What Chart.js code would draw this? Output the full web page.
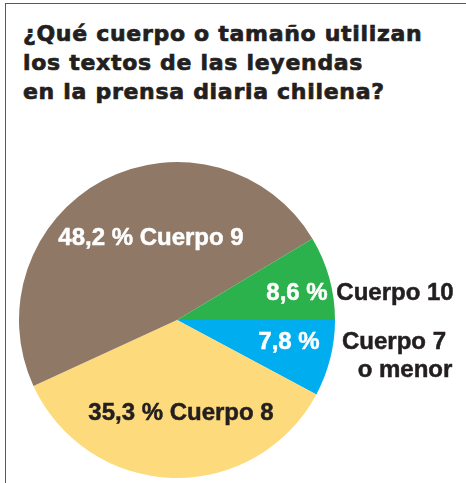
<!DOCTYPE html>
<html>
<head>
<meta charset="utf-8">
<script src="https://cdn.jsdelivr.net/npm/chart.js@4/dist/chart.umd.min.js"></script>
<style>
  html, body { margin: 0; padding: 0; background: #fff; }
  #wrap { position: relative; width: 466px; height: 483px; overflow: hidden; }
  #frame { position: absolute; left: 5px; top: 3px; right: -2px; bottom: -2px;
    border-top: 1.5px solid #5a5a5a; border-left: 1.5px solid #5a5a5a; }
  #title { position: absolute; left: 23px; top: 19px; margin: 0;
    font: bold 22px 'DejaVu Sans', sans-serif; line-height: 29px; letter-spacing: 0.7px; color: #231f20;
    -webkit-text-stroke: 0.7px #231f20; }
  canvas { position: absolute; left: 0; top: 0; }
</style>
</head>
<body>
<div id="wrap">
  <div id="frame"></div>
  <p id="title">¿Qué cuerpo o tamaño utilizan<br>los textos de las leyendas<br>en la prensa diaria chilena?</p>
  <canvas id="pie" width="466" height="483"></canvas>
</div>
<script>
// Slices clockwise from 3 o'clock
const categories = ['Cuerpo 7 o menor', 'Cuerpo 8', 'Cuerpo 9', 'Cuerpo 10'];
const shares = [7.8, 35.3, 48.2, 8.6];
const colors = ['#00aeef', '#fdda7b', '#8f7866', '#2bb24c'];
const pctLabels = shares.map((v) => v.toFixed(1).replace('.', ',') + ' %');

// label placement relative to pie centre (px), and colours
const labelSpots = [
  { parts: [
      { text: pctLabels[0], dx: 112, dy: 22, color: '#fff', align: 'center' },
      { text: 'Cuerpo 7', dx: 217, dy: 22, color: '#231f20', align: 'center' },
      { text: 'o menor', dx: 228, dy: 50, color: '#231f20', align: 'center' } ] },
  { parts: [ { text: pctLabels[1] + ' ' + 'Cuerpo 8', dx: 4, dy: 93, color: '#231f20', align: 'center' } ] },
  { parts: [ { text: pctLabels[2] + ' ' + 'Cuerpo 9', dx: -26, dy: -82, color: '#fff', align: 'center' } ] },
  { parts: [
      { text: pctLabels[3], dx: 120, dy: -27, color: '#fff', align: 'center' },
      { text: 'Cuerpo 10', dx: 218, dy: -27, color: '#231f20', align: 'center' } ] },
];

const sliceLabels = {
  id: 'sliceLabels',
  afterDatasetsDraw(chart) {
    const { ctx } = chart;
    const arc = chart.getDatasetMeta(0).data[0];
    if (!arc) return;
    const cx = arc.x, cy = arc.y;
    ctx.save();
    ctx.font = "bold 24px 'Liberation Sans', Arial, sans-serif";
    ctx.textBaseline = 'middle';
    ctx.lineWidth = 0.5;
    labelSpots.forEach((s) => s.parts.forEach((p) => {
      ctx.fillStyle = p.color;
      ctx.strokeStyle = p.color;
      ctx.textAlign = p.align;
      ctx.fillText(p.text, cx + p.dx, cy + p.dy);
      ctx.strokeText(p.text, cx + p.dx, cy + p.dy);
    }));
    ctx.restore();
  },
};

new Chart(document.getElementById('pie'), {
  type: 'pie',
  data: {
    labels: categories,
    datasets: [{ data: shares, backgroundColor: colors, borderWidth: 0 }],
  },
  options: {
    responsive: false,
    animation: false,
    rotation: 90,
    layout: { padding: { left: 19, right: 131, top: 162, bottom: 5 } },
    plugins: { legend: { display: false }, tooltip: { enabled: false } },
  },
  plugins: [sliceLabels],
});
</script>
</body>
</html>
